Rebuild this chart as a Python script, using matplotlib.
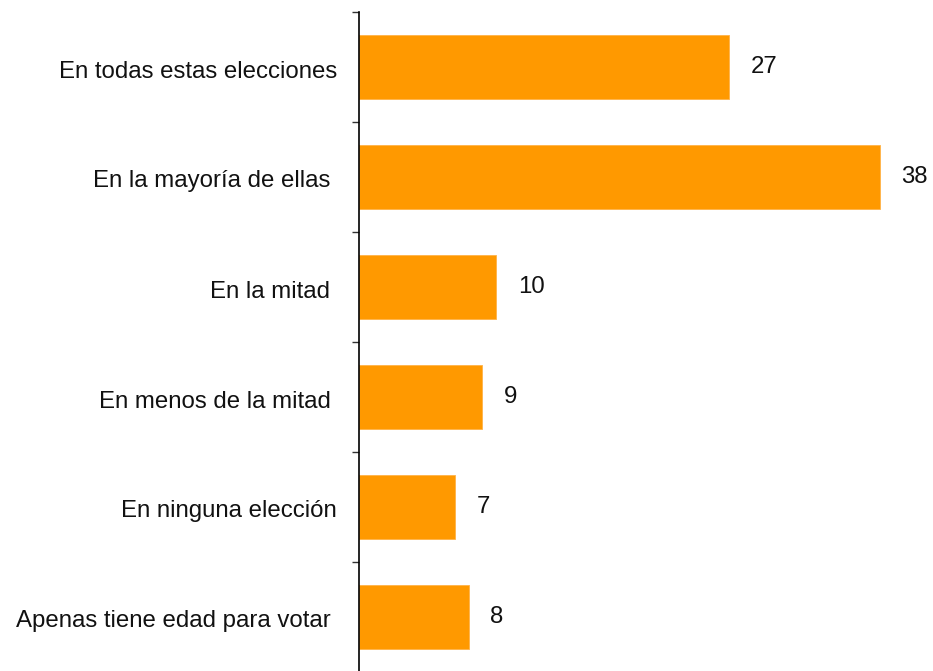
import matplotlib
matplotlib.use("Agg")
import matplotlib.pyplot as plt
import matplotlib.transforms as mtransforms
import numpy as np

categories = ["En todas estas elecciones", "En la mayoría de ellas ", "En la mitad ",
              "En menos de la mitad ", "En ninguna elección", "Apenas tiene edad para votar "]
values = [27, 38, 10, 9, 7, 8]

plt.rcParams['font.family'] = ['Liberation Sans', 'DejaVu Sans']

W, H = 933, 671
fig = plt.figure(figsize=(W / 100, H / 100), dpi=100)
ax_left = 359 / W
ax_top = (H - 12) / H
ax_bottom = (H - 672) / H
ax = fig.add_axes([ax_left, ax_bottom, 1 - ax_left, ax_top - ax_bottom])

y = np.arange(len(categories))
ax.barh(y, values, height=0.58, color="#FF9900", edgecolor="#FFB347", linewidth=0.6)

ax.set_ylim(len(categories) - 0.5, -0.5)
ax.set_xlim(0, (W - 359) / 13.71)

for s in ["top", "right", "bottom"]:
    ax.spines[s].set_visible(False)
ax.spines["left"].set_color("black")
ax.spines["left"].set_linewidth(1.2)

ax.set_xticks([])
ax.set_yticks(y)
ax.set_yticklabels(categories, fontsize=17.3, color="#111111")
ax.tick_params(axis="y", which="major", length=0, pad=15.8)
ax.set_yticks(np.arange(-0.5, len(categories) + 0.5, 1), minor=True)
ax.tick_params(axis="y", which="minor", length=5, width=1, color="#333333")

offset = mtransforms.ScaledTranslation(0, -2 / 100, fig.dpi_scale_trans)
for lab in ax.get_yticklabels():
    lab.set_transform(lab.get_transform() + offset)

for yi, v in zip(y, values):
    ax.annotate(f"{v}", xy=(v, yi), xytext=(15.5, 0), textcoords="offset points",
                va="center", ha="left", fontsize=17.3, color="#111111")

fig.savefig("out.png", dpi=100)
